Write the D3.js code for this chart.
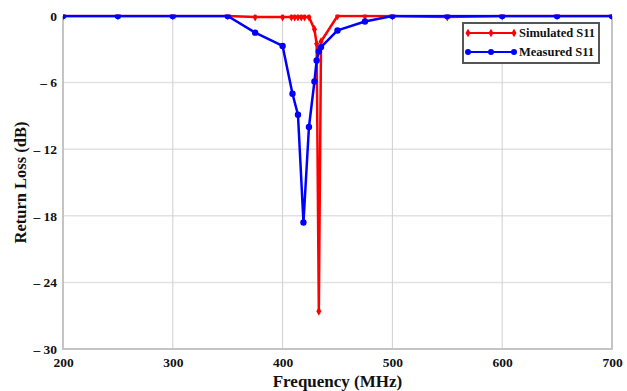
<!DOCTYPE html>
<html>
<head>
<meta charset="utf-8">
<script src="https://cdn.jsdelivr.net/npm/d3@7"></script>
<style>
  html, body { margin: 0; padding: 0; background: #fff; }
  svg { display: block; }
  text { font-family: "Liberation Serif", "Times New Roman", serif; font-weight: bold; fill: #111; }
</style>
</head>
<body>
<svg id="chart" width="627" height="391"></svg>
<script>
// Simulated S11 (frequency in MHz, return loss in dB)
const simFreq = [200, 250, 300, 350, 375, 400, 408, 411, 414, 417, 420, 424, 429, 431, 433, 435, 450, 475, 500, 550, 600, 650, 700];
const simLoss = [0, 0, 0, 0, -0.1, -0.1, -0.1, -0.1, -0.1, -0.1, -0.1, -0.1, -1.2, -2.5, -26.6, -2.3, 0, 0, 0, -0.1, 0, 0, 0];

// Measured S11
const measFreq = [200, 250, 300, 350, 375, 400, 409, 414, 419, 424, 429, 431, 433, 435, 450, 475, 500, 550, 600, 650, 700];
const measLoss = [0, 0, 0, 0, -1.5, -2.7, -7.0, -8.9, -18.6, -10.0, -5.9, -4.0, -3.2, -2.8, -1.3, -0.5, 0, 0, 0, 0, 0];

const xTicks = [200, 300, 400, 500, 600, 700];
const yTicks = [0, -6, -12, -18, -24, -30];
const seriesNames = ["Simulated S11", "Measured S11"];
const seriesColors = ["#ff0000", "#0000ff"];

const svg = d3.select("#chart");
const pLeft = 63, pRight = 612, pTop = 16, pBottom = 349;

const x = d3.scaleLinear().domain([200, 700]).range([pLeft, pRight]);
const y = d3.scaleLinear().domain([-30, 0]).range([pBottom, pTop]);

// grid
const grid = svg.append("g");
grid.selectAll(".hg").data(yTicks.filter(d => d !== 0 && d !== -30)).enter()
  .append("line")
  .attr("x1", pLeft).attr("x2", pRight)
  .attr("y1", d => y(d)).attr("y2", d => y(d))
  .attr("stroke", "#e2e2e2").attr("stroke-width", 1.5);
grid.selectAll(".vg").data(xTicks.filter(d => d !== 200 && d !== 700)).enter()
  .append("line")
  .attr("y1", pTop).attr("y2", pBottom)
  .attr("x1", d => x(d)).attr("x2", d => x(d))
  .attr("stroke", "#cfcfcf").attr("stroke-width", 1);

// frame: left, bottom, right
const frame = svg.append("g").attr("stroke", "#c4c4c4").attr("stroke-width", 2).attr("fill", "none");
frame.append("path").attr("d", `M${pLeft},${pTop}V${pBottom}H${pRight}V${pTop}`);

// axes tick labels
const xAxis = d3.axisBottom(x).tickValues(xTicks).tickSize(0).tickPadding(8);
const gx = svg.append("g").attr("transform", `translate(0,${pBottom})`).call(xAxis);
gx.select(".domain").remove();
gx.selectAll("text").attr("font-size", 13.5).attr("font-family", "Liberation Serif").attr("font-weight", "bold").attr("fill", "#111");

const fmtY = d => d === 0 ? "0" : "\u2013 " + Math.abs(d);
const yAxis = d3.axisLeft(y).tickValues(yTicks).tickSize(0).tickPadding(6).tickFormat(fmtY);
const gy = svg.append("g").attr("transform", `translate(${pLeft},0)`).call(yAxis);
gy.select(".domain").remove();
gy.selectAll("text").attr("font-size", 13.5).attr("font-family", "Liberation Serif").attr("font-weight", "bold").attr("fill", "#111");

// axis titles
svg.append("text")
  .attr("x", (pLeft + pRight) / 2).attr("y", 387)
  .attr("text-anchor", "middle").attr("font-size", 17)
  .text("Frequency (MHz)");
svg.append("text")
  .attr("transform", `translate(26,${(pTop + pBottom) / 2}) rotate(-90)`)
  .attr("text-anchor", "middle").attr("font-size", 16.5)
  .text("Return Loss (dB)");

// clip to the plot area
svg.append("clipPath").attr("id", "plotClip")
  .append("rect").attr("x", pLeft).attr("y", pTop - 1.6).attr("width", pRight - pLeft).attr("height", pBottom - pTop + 1.6);

const plot = svg.append("g").attr("clip-path", "url(#plotClip)");
const line = d3.line().x(d => x(d[0])).y(d => y(d[1]));

const simData = simFreq.map((f, i) => [f, simLoss[i]]);
const measData = measFreq.map((f, i) => [f, measLoss[i]]);

const diamond = d3.symbol().type(d3.symbolDiamond).size(22);

// simulated
plot.append("path").datum(simData).attr("d", line)
  .attr("fill", "none").attr("stroke", seriesColors[0]).attr("stroke-width", 2.5).attr("stroke-linejoin", "round");
plot.selectAll(".simPt").data(simData).enter().append("path")
  .attr("d", diamond)
  .attr("transform", d => `translate(${x(d[0])},${y(d[1])})`)
  .attr("fill", seriesColors[0]);

// measured
plot.append("path").datum(measData).attr("d", line)
  .attr("fill", "none").attr("stroke", seriesColors[1]).attr("stroke-width", 2.5).attr("stroke-linejoin", "round");
plot.selectAll(".measPt").data(measData).enter().append("circle")
  .attr("cx", d => x(d[0])).attr("cy", d => y(d[1])).attr("r", 3.2)
  .attr("fill", seriesColors[1]);

// legend
const lg = svg.append("g").attr("transform", "translate(463,23)");
lg.append("rect").attr("x", 0).attr("y", 0).attr("width", 136).attr("height", 40)
  .attr("fill", "#fff").attr("stroke", "#555").attr("stroke-width", 2);
seriesNames.forEach((name, i) => {
  const yy = 10 + i * 19;
  lg.append("line").attr("x1", 5).attr("x2", 51).attr("y1", yy).attr("y2", yy)
    .attr("stroke", seriesColors[i]).attr("stroke-width", 2);
  [5, 28, 51].forEach(px => {
    if (i === 0) {
      lg.append("path").attr("d", diamond).attr("transform", `translate(${px},${yy})`).attr("fill", seriesColors[i]);
    } else {
      lg.append("circle").attr("cx", px).attr("cy", yy).attr("r", 3).attr("fill", seriesColors[i]);
    }
  });
  lg.append("text").attr("x", 56).attr("y", yy + 4).attr("font-size", 12.5).text(name);
});
</script>
</body>
</html>
